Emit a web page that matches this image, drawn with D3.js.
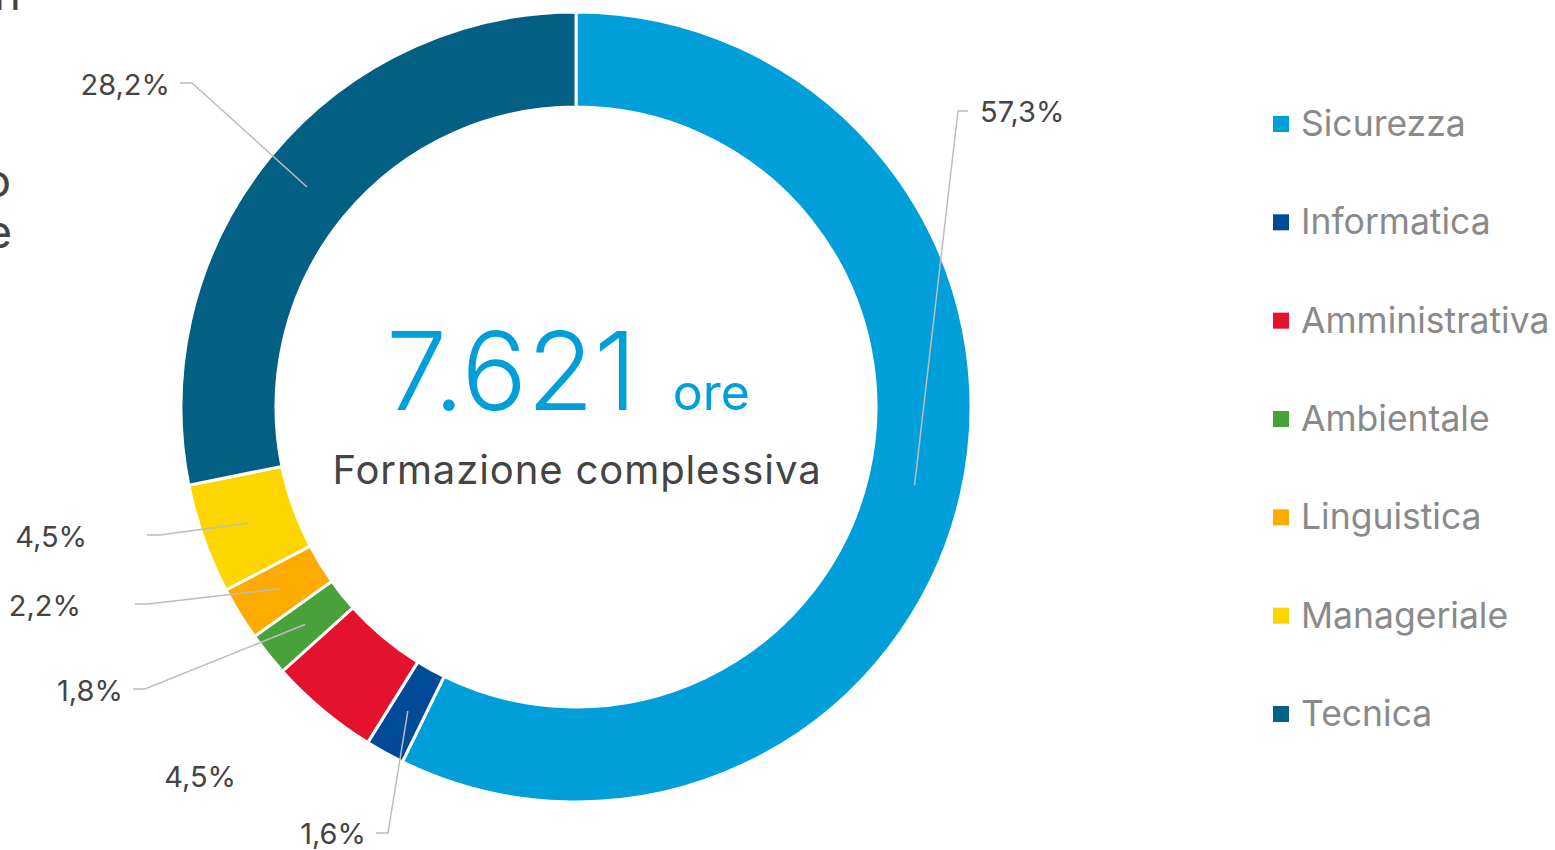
<!DOCTYPE html>
<html>
<head>
<meta charset="utf-8">
<script src="https://cdn.jsdelivr.net/npm/d3@7/dist/d3.min.js"></script>
<style>
  html, body { margin: 0; padding: 0; background: #fff; }
  svg { display: block; font-family: Inter, "Noto Sans", sans-serif; }
</style>
</head>
<body>
<svg id="chart" width="1555" height="850"></svg>
<script>
// ---- data ----
const categories = ["Sicurezza", "Informatica", "Amministrativa", "Ambientale", "Linguistica", "Manageriale", "Tecnica"];
const shares = [57.3, 1.6, 4.5, 1.8, 2.2, 4.5, 28.2];
const shareLabels = ["57,3%", "1,6%", "4,5%", "1,8%", "2,2%", "4,5%", "28,2%"];
const colors = ["#009fda", "#004a98", "#e4122e", "#48a13a", "#fdab00", "#fdd600", "#035f83"];
const totalHours = "7.621";
const totalUnit = "ore";
const centerCaption = "Formazione complessiva";

// ---- layout (label placement, px) ----
const labelLayout = [
  { tx: 980,  ty: 122, anchor: "start", elbow: [958, 111], end: [968, 111] },
  { tx: 366,  ty: 844, anchor: "end",   elbow: [388, 833], end: [376, 833] },
  { tx: 236,  ty: 787, anchor: "end",   elbow: null, end: null },
  { tx: 123,  ty: 701, anchor: "end",   elbow: [145, 689], end: [133, 689] },
  { tx: 81,   ty: 616, anchor: "end",   elbow: [148, 604], end: [135, 604] },
  { tx: 87,   ty: 547, anchor: "end",   elbow: [160, 535], end: [147, 535] },
  { tx: 170,  ty: 95,  anchor: "end",   elbow: [192, 83],  end: [180, 83] }
];

const svg = d3.select("#chart");
const cx = 576, cy = 407, rOuter = 395, rInner = 300;

const pie = d3.pie().sort(null).value(d => d);
const arcs = pie(shares);
const arc = d3.arc().innerRadius(rInner).outerRadius(rOuter);

const g = svg.append("g").attr("transform", `translate(${cx},${cy})`);
g.selectAll("path.slice")
  .data(arcs)
  .join("path")
  .attr("class", "slice")
  .attr("d", arc)
  .attr("fill", (d, i) => colors[i])
  .attr("stroke", "#fff")
  .attr("stroke-width", 3)
  .attr("stroke-linejoin", "miter");

// leader lines + labels
const leaders = svg.append("g");
arcs.forEach((d, i) => {
  const L = labelLayout[i];
  if (L.elbow) {
    const c = arc.centroid(d);
    const pts = [[c[0] + cx, c[1] + cy], L.elbow, L.end];
    leaders.append("path")
      .attr("d", d3.line()(pts))
      .attr("fill", "none")
      .attr("stroke", "#bdbdbd")
      .attr("stroke-width", 1.5);
  }
  svg.append("text")
    .attr("x", L.tx)
    .attr("y", L.ty)
    .attr("text-anchor", L.anchor)
    .attr("font-size", 29)
    .attr("fill", "#444")
    .text(shareLabels[i]);
});

// center text
const center = svg.append("text")
  .attr("x", cx - 8)
  .attr("y", 410)
  .attr("text-anchor", "middle")
  .attr("fill", "#009fda");
center.append("tspan").attr("font-size", 109).attr("font-weight", 300).text(totalHours);
center.append("tspan").attr("font-size", 50).attr("font-weight", 400).attr("dx", 36).text(totalUnit);

svg.append("text")
  .attr("x", cx + 1)
  .attr("y", 484)
  .attr("text-anchor", "middle")
  .attr("font-size", 40)
  .attr("letter-spacing", 0.9)
  .attr("fill", "#444")
  .text(centerCaption);

// legend
const legend = svg.append("g").attr("transform", "translate(1273,0)");
const legendY = d3.scalePoint().domain(categories).range([123, 713]);
categories.forEach((c, i) => {
  const y = legendY(c);
  legend.append("rect")
    .attr("x", 0).attr("y", y - 7)
    .attr("width", 16).attr("height", 16)
    .attr("fill", colors[i]);
  legend.append("text")
    .attr("x", 28).attr("y", y + 13)
    .attr("font-size", 35.5)
    .attr("fill", "#8a8a8a")
    .text(c);
});

// cut-off text fragments at the left edge (from neighbouring content)
const frag = [["n", 21, 10], ["o", 11, 197], ["e", 12, 248]];
frag.forEach(f => {
  svg.append("text").attr("x", f[1]).attr("y", f[2])
    .attr("text-anchor", "end").attr("font-size", 46).attr("fill", "#444").text(f[0]);
});
</script>
</body>
</html>
